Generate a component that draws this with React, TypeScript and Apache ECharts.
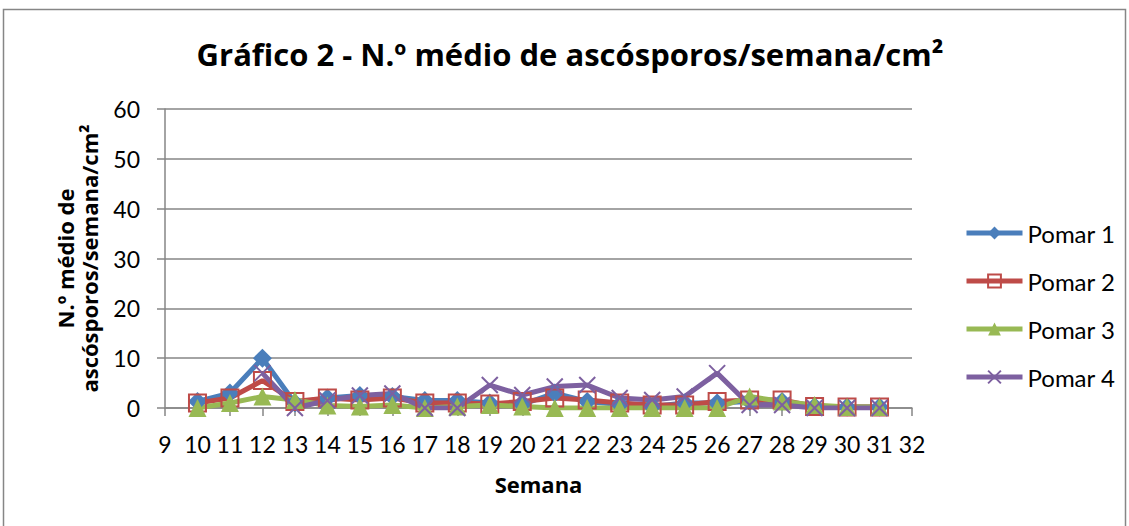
import React, { useEffect, useRef } from "react";
import * as echarts from "echarts";

const weeks = [10, 11, 12, 13, 14, 15, 16, 17, 18, 19, 20, 21, 22, 23, 24, 25, 26, 27, 28, 29, 30, 31];
const pomar1 = [1.3, 3, 10, 1, 2, 2.5, 2.3, 1.5, 1.5, 1, 0.7, 3, 1.3, 0.7, 0.3, 1, 1, 1.3, 1.3, 0.3, 0.2, 0.2];
const pomar2 = [1, 2, 5.5, 1.3, 2, 1.6, 2, 1, 1, 0.8, 1.3, 2, 1.6, 1, 0.6, 0.6, 1.3, 1.6, 1.6, 0.3, 0.2, 0.2];
const pomar3 = [0, 1, 2.3, 1.6, 0.5, 0.3, 0.6, 0, 0.3, 0.6, 0.3, 0, 0, 0, 0, 0, 0, 2.3, 1.3, 0.6, 0.2, 0.2];
const pomar4 = [null, null, 7, 0, 1.5, 2.5, 2.9, 0, 0, 4.6, 2.6, 4.3, 4.6, 2, 1.6, 2.3, 7, 0.6, 0.6, 0, 0, 0];
const seriesNames = ["Pomar 1", "Pomar 2", "Pomar 3", "Pomar 4"];
const colors = ["#4A7EBB", "#BE4B48", "#98B954", "#7D60A0"];

const FONT = "Lato";
const BOLD_FONT = "Open Sans";

export default function App() {
  const ref = useRef<HTMLDivElement>(null);
  useEffect(() => {
    if (!ref.current) return;
    const chart = echarts.init(ref.current, null, { renderer: "svg" });
    const mk = (vals: (number | null)[]) => weeks.map((w, i) => [w, vals[i]]);
    const base = {
      type: "line",
      lineStyle: { width: 5 },
      connectNulls: false,
    };
    chart.setOption({
      animation: false,
      backgroundColor: "#fff",
      title: {
        text: "Gráfico 2 - N.º médio de ascósporos/semana/cm²",
        left: 570,
        textAlign: "center",
        top: 37,
        padding: 0,
        textStyle: { fontFamily: BOLD_FONT, fontWeight: "bold", fontSize: 31, color: "#000", lineHeight: 34 },
      },
      graphic: [
        {
          type: "polyline",
          shape: { points: [[3.5, 530], [3.5, 9.5], [1125.5, 9.5], [1125.5, 530]] },
          style: { fill: "none", stroke: "#868686", lineWidth: 1.5 },
          silent: true,
        },
      ],
      legend: {
        orient: "vertical",
        left: 964,
        top: 221,
        padding: 0,
        itemWidth: 56,
        itemHeight: 16,
        itemGap: 24,
        lineStyle: { width: 5 },
        textStyle: { fontFamily: FONT, fontSize: 24, color: "#000", lineHeight: 24 },
        data: seriesNames,
      },
      grid: { left: 165, right: 217, top: 109, bottom: 118, containLabel: false },
      xAxis: {
        type: "value",
        min: 9,
        max: 32,
        interval: 1,
        name: "Semana",
        nameLocation: "middle",
        nameGap: 65,
        nameTextStyle: { fontFamily: BOLD_FONT, fontWeight: "bold", fontSize: 22, color: "#000" },
        axisLine: { show: true, lineStyle: { color: "#868686", width: 1.5 } },
        axisTick: { show: true, length: 8, lineStyle: { color: "#868686", width: 1.5 } },
        axisLabel: { fontFamily: FONT, fontSize: 23, color: "#000", margin: 24 },
        splitLine: { show: false },
      },
      yAxis: {
        type: "value",
        min: 0,
        max: 60,
        interval: 10,
        name: "N.º médio de\nascósporos/semana/cm²",
        nameLocation: "middle",
        nameRotate: 90,
        nameGap: 64,
        nameTextStyle: { fontFamily: BOLD_FONT, fontWeight: "bold", fontSize: 22, color: "#000", lineHeight: 24 },
        axisLine: { show: true, lineStyle: { color: "#868686", width: 1.5 } },
        axisTick: { show: true, length: 8, lineStyle: { color: "#868686", width: 1.5 } },
        axisLabel: { fontFamily: FONT, fontSize: 23, color: "#000", margin: 25 },
        splitLine: { show: true, lineStyle: { color: "#868686", width: 1.5 } },
      },
      series: [
        {
          ...base,
          name: seriesNames[0],
          data: mk(pomar1),
          color: colors[0],
          symbol: "diamond",
          symbolSize: 19,
          itemStyle: { color: colors[0] },
        },
        {
          ...base,
          name: seriesNames[1],
          data: mk(pomar2),
          color: colors[1],
          symbol: "rect",
          symbolSize: 17,
          itemStyle: { color: "rgba(255,255,255,0)", borderColor: colors[1], borderWidth: 2 },
          lineStyle: { width: 5, color: colors[1] },
        },
        {
          ...base,
          name: seriesNames[2],
          data: mk(pomar3),
          color: colors[2],
          symbol: "triangle",
          symbolSize: 18,
          itemStyle: { color: colors[2] },
        },
        {
          ...base,
          name: seriesNames[3],
          data: mk(pomar4),
          color: colors[3],
          symbol: "path://M0,0L10,10M10,0L0,10",
          symbolSize: 16,
          itemStyle: { color: "none", borderColor: colors[3], borderWidth: 2 },
          lineStyle: { width: 5, color: colors[3] },
        },
      ],
    });
    return () => chart.dispose();
  }, []);
  return (
    <div
      ref={ref}
      style={{ position: "absolute", left: 0, top: 0, width: 1129, height: 526 }}
    />
  );
}
